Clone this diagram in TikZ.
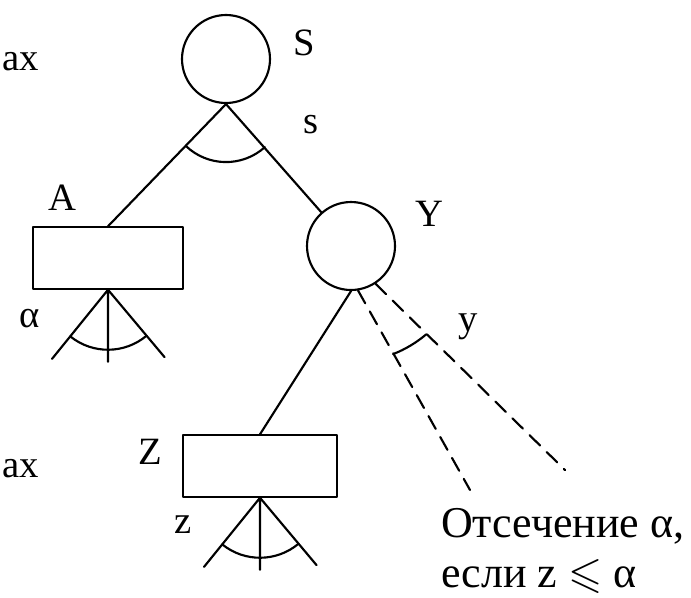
\documentclass[tikz,border=0pt]{standalone}
\usepackage{fontspec}
\setmainfont{Liberation Serif}
\usepackage{amssymb}
\usetikzlibrary{positioning}
\tikzset{
  maxnode/.style={circle, draw, minimum size=66pt, inner sep=0pt},
  minnode/.style={rectangle, draw, minimum width=113pt, minimum height=46pt, inner sep=0pt},
  lbl/.style={inner sep=0pt, font=\fontsize{29}{29}\selectfont},
  cutline/.style={dash pattern=on 11pt off 7pt},
}
\begin{document}
\begin{tikzpicture}[x=0.75pt, y=-0.75pt, line width=1.6pt, line join=round, line cap=round]
\useasboundingbox (0,0) rectangle (691,597);
\node[maxnode] (S) at (226,59) {};
\node[maxnode] (Y) at (351,246) {};
\node[minnode] (A) at (108,258) {};
\node[minnode, minimum width=115pt] (Z) at (260,466) {};
\draw (S.south) -- (A.north) (S.south) -- (Y);
\draw (Y.south) -- (Z.north);
\draw (S.south) ++(134:58) arc[start angle=134, end angle=48, radius=58];
% leaves under the boxes
\foreach \n in {A,Z}{
  \path (\n.south) ++(129:89) coordinate (\n l)
        (\n.south) ++(90:72) coordinate (\n m)
        (\n.south) ++(50:88) coordinate (\n r);
  \draw (\n l) -- (\n.south) -- (\n r) (\n.south) -- (\n m);
  \draw (\n.south) ++(129:60) arc[start angle=129, end angle=50, radius=60];
}
% cut off branches
\path (470,490) coordinate (cutl) (565,470) coordinate (cutr);
\draw[cutline] (Y.-81) -- (cutl) (Y.-57) -- (cutr);
\draw (Y.center) ++(68.7:116) arc[start angle=68.7, end angle=49.6, radius=116];
% labels
\node[lbl] (Slab) at (304,43) {S};
\node[lbl] (slab) at (311,125) {s};
\node[lbl] (Alab) at (62,198) {A};
\node[lbl] (alab) at (30,319) {α};
\node[lbl] (Ylab) at (429,214) {Y};
\node[lbl] (ylab) at (468,327) {y};
\node[lbl] (Zlab) at (150,452) {Z};
\node[lbl] (zlab) at (183,525) {z};
\node[lbl, anchor=base west] (max1) at (1,70) {ax};
\node[lbl, anchor=base west] (max2) at (1,477) {ax};
\node[anchor=base west, align=left, inner sep=0pt, font=\fontsize{33}{37}\selectfont] (cut) at (440,587) {Отсечение α,\\если z $\leqslant$ α};
\end{tikzpicture}
\end{document}
